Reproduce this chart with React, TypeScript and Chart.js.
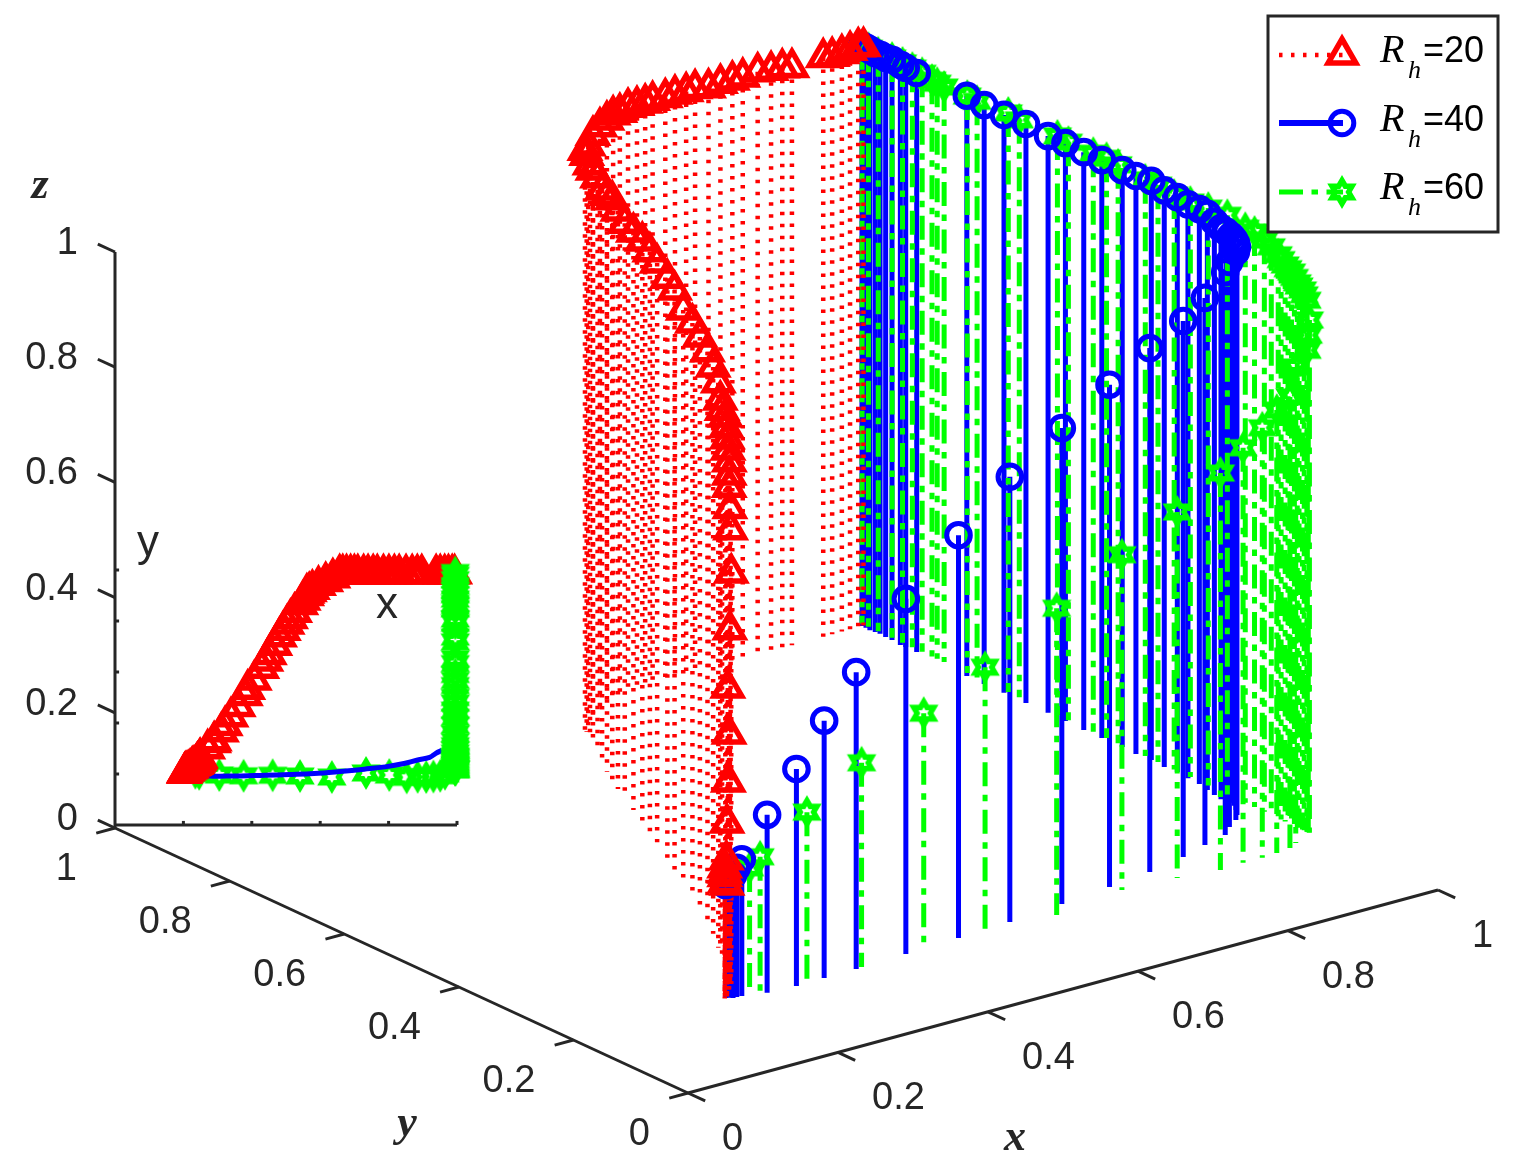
import { useEffect, useRef } from "react";
import { Chart, registerables } from "chart.js";

Chart.register(...registerables);

const RED = "#ff0000";
const BLUE = "#0000ff";
const GREEN = "#00ff00";
const INK = "#262626";

// Rh = 20
const redX = [.203,.203,.204,.205,.207,.210,.214,.219,.223,.226,.231,.236,.239,.238,.241,.241,.245,.244,.247,.248,.249,.271,.288,.290,.311,.322,.339,.360,.381,.388,.407,.429,.441,.451,.467,.481,.492,.503,.513,.525,.543,.550,.560,.568,.561,.577,.595,.616,.637,.657,.666,.677,.689,.700,.710,.727,.740,.755,.767,.785,.801,.817,.831,.851,.869,.884,.897,.939,.951,.964,.975,.986,.993];
const redY = [.203,.206,.208,.209,.212,.213,.217,.221,.225,.231,.234,.238,.243,.243,.248,.248,.253,.254,.259,.262,.265,.299,.324,.330,.366,.390,.425,.465,.508,.532,.569,.615,.643,.669,.705,.738,.764,.788,.810,.834,.865,.882,.900,.916,.910,.925,.940,.955,.970,.985,.985,.985,.985,.985,.985,.985,.985,.985,.985,.985,.985,.985,.985,.985,.985,.985,.985,.985,.985,.985,.985,.985,.985];
const redZ = [.198,.201,.210,.215,.222,.234,.294,.361,.440,.515,.612,.706,.777,.814,.847,.868,.887,.907,.923,.940,.957,.945,.945,.971,.974,.985,.988,.986,.981,1.002,.998,.995,.997,1.0,.993,.988,.993,.997,.991,.985,.985,.988,.985,.991,1.005,1.0,1.005,1.005,1.002,.997,.998,1.003,1.002,1.002,1.003,1.002,1.003,1.002,1.003,.998,1.0,1.0,1.0,1.002,.998,.997,.993,.995,.993,.993,.995,.997,.995];

// Rh = 40
const blueX = [.206,.209,.212,.217,.223,.250,.287,.325,.368,.437,.510,.582,.658,.729,.790,.845,.885,.920,.938,.956,.966,.974,.980,.983,.982,.981,.983,.986,.990,.991,.993,.991,.993,.991,.992,.991,.990,.991,.991,.990,.990,.989,.989,.990,.990,.989,.991,.991,.992,.991,.990,.991,.991];
const blueY = [.209,.207,.204,.204,.203,.194,.191,.192,.192,.195,.198,.202,.210,.219,.228,.241,.255,.265,.281,.293,.304,.316,.327,.336,.343,.351,.365,.381,.400,.421,.442,.462,.487,.511,.536,.570,.600,.633,.663,.700,.738,.771,.801,.889,.908,.916,.933,.944,.955,.962,.970,.978,.985];
const blueZ = [.194,.204,.211,.222,.235,.306,.373,.442,.510,.610,.692,.765,.818,.863,.900,.921,.940,.967,.971,.976,.976,.974,.973,.974,.978,.981,.985,.990,.988,.986,.988,.991,.995,.993,.991,.993,.993,.993,.991,.995,.993,.995,.997,.995,.995,.997,.997,.995,.995,.995,.997,.997,.997];

// Rh = 60
const greenX = [.235,.246,.305,.376,.461,.541,.634,.734,.802,.853,.885,.910,.931,.951,.965,.995,.995,.995,.995,.995,.995,.995,.995,.995,.995,.995,.995,.995,.995,.995,.995,.995,.995,.995,.995,.995,.995,.995,.995,.995,.995,.995,.995,.995,.995,.995,.995,.995,.995,.995,.995,.995,.995,.995,.995,.995,.995,.995];
const greenY = [.205,.201,.196,.193,.195,.192,.188,.204,.196,.187,.189,.188,.190,.193,.201,.220,.218,.216,.220,.228,.237,.247,.258,.270,.282,.294,.311,.327,.358,.391,.422,.450,.478,.500,.547,.567,.590,.633,.652,.718,.737,.791,.808,.848,.860,.869,.886,.903,.920,.938,.962,.979,.990,.265,.253,.242,.234,.225];
const greenZ = [.215,.232,.290,.351,.405,.457,.527,.576,.629,.682,.713,.739,.761,.775,.818,.827,.854,.881,.913,.927,.935,.949,.956,.968,.976,.982,.988,.987,.995,.992,.988,.987,.991,.990,.994,.996,.994,.993,.995,.992,.995,.990,.991,.988,.989,.990,.994,.995,.996,.996,.994,.994,.993,.962,.952,.942,.931,.920];
const greenBend = 15;

const tickValues = [0, 0.2, 0.4, 0.6, 0.8, 1];
const tickLabels = ["0", "0.2", "0.4", "0.6", "0.8", "1"];
const insetXTicks = [0.2, 0.4, 0.6, 0.8, 1];
const insetYTicks = [0.2, 0.4, 0.6, 0.8, 1];
const legendNames = ["=20", "=40", "=60"];

type P = { x: number; y: number };
// oblique view used for the stems
const view = (x: number, y: number, z: number): P => ({
  x: 693 + 745 * x - 578 * y,
  y: 1097 - 207 * x - 270 * y - 582 * z,
});
// the box of the axes
const box = (x: number, y: number, z: number): P => ({
  x: 688 + 750 * x - 573 * y,
  y: 1093 - 203 * x - 265 * y - 576 * z,
});
// the small flat x-y view
const flat = (x: number, y: number): P => ({ x: 115 + 342 * x, y: 825 - 255 * y });

function hexagram(): HTMLCanvasElement {
  const c = document.createElement("canvas");
  c.width = 48;
  c.height = 48;
  const g = c.getContext("2d")!;
  g.strokeStyle = GREEN;
  g.lineWidth = 5.5;
  g.lineJoin = "miter";
  g.miterLimit = 6;
  g.beginPath();
  for (let i = 0; i < 12; i++) {
    const r = i % 2 === 0 ? 11.5 : 6.64;
    const a = (i * Math.PI) / 6 - Math.PI / 2;
    const px = 24 + r * Math.cos(a);
    const py = 24 + r * Math.sin(a);
    if (i === 0) g.moveTo(px, py);
    else g.lineTo(px, py);
  }
  g.closePath();
  g.stroke();
  return c;
}

const redDash = [3.5, 8.5];
const greenDash = [24, 8.5, 6.5, 8.5];

function stems(xs: number[], ys: number[], zs: number[], color: string, width: number, dash: number[], order: number) {
  return xs.map((x, i) => ({
    data: [view(x, ys[i], zs[i]), view(x, ys[i], 0)],
    showLine: true,
    borderColor: color,
    borderWidth: width,
    borderDash: dash,
    borderCapStyle: "butt" as const,
    pointRadius: 0,
    order,
    clip: false,
  }));
}

function marks(data: P[], color: string, pointStyle: any, radius: number, width: number, order: number) {
  return {
    data,
    showLine: false,
    pointStyle,
    pointRadius: radius,
    pointBorderColor: color,
    pointBackgroundColor: "rgba(0,0,0,0)",
    pointBorderWidth: width,
    order,
    clip: false,
  };
}

function frameLine(a: P, b: P, width = 3) {
  return {
    data: [a, b],
    showLine: true,
    borderColor: INK,
    borderWidth: width,
    pointRadius: 0,
    order: 20,
    clip: false,
  };
}

export default function App() {
  const ref = useRef<HTMLCanvasElement | null>(null);
  useEffect(() => {
    const star = hexagram();
    const frame: any[] = [
      frameLine(box(0, 0, 0), box(1, 0, 0)),
      frameLine(box(0, 0, 0), box(0, 1, 0)),
      frameLine(box(0, 1, 0), box(0, 1, 1)),
      frameLine(flat(0, 0), flat(1, 0)),
    ];
    tickValues.forEach((t) => {
      frame.push(frameLine(box(t, 0, 0), box(t, -0.03, 0), 3));
      frame.push(frameLine(box(0, t, 0), box(-0.025, t, 0), 3));
      frame.push(frameLine(box(0, 1, t), box(0, 1.03, t), 3));
    });
    insetXTicks.forEach((t) => frame.push(frameLine(flat(t, 0), flat(t, 0.016), 3)));
    insetYTicks.forEach((t) => frame.push(frameLine(flat(0, t), flat(0.012, t), 3)));

    const redFlat = redX.map((x, i) => flat(x, redY[i]));
    const greenFlat = greenX.map((x, i) => flat(x, greenY[i]));
    const blueFlat = blueX.slice(5, 20).map((x, i) => flat(x, blueY[i + 5]));

    const datasets: any[] = [
      ...frame,
      ...stems(blueX, blueY, blueZ, BLUE, 5, [], 12),
      ...stems(greenX, greenY, greenZ, GREEN, 5, greenDash, 11),
      ...stems(redX, redY, redZ, RED, 4.5, redDash, 10),
      marks(greenX.map((x, i) => view(x, greenY[i], greenZ[i])), GREEN, star, 15, 0, 9),
      marks(blueX.map((x, i) => view(x, blueY[i], blueZ[i])), BLUE, "circle", 11.8, 5, 8),
      marks(redX.map((x, i) => view(x, redY[i], redZ[i])), RED, "triangle", 16, 5.5, 7),
      marks(greenFlat.slice(0, greenBend), GREEN, star, 15, 0, 6),
      { data: blueFlat, showLine: true, tension: 0.4, borderColor: BLUE, borderWidth: 5, pointRadius: 0, order: 5, clip: false },
      marks(redFlat, RED, "triangle", 16, 5.5, 4),
      marks(greenFlat.slice(greenBend), GREEN, star, 15, 0, 3),
    ];

    const textPlugin = {
      id: "chartText",
      afterDraw(chart: any) {
        const g: CanvasRenderingContext2D = chart.ctx;
        const sx = chart.scales.x;
        const sy = chart.scales.y;
        const px = (p: P): P => ({ x: sx.getPixelForValue(p.x), y: sy.getPixelForValue(p.y) });
        g.save();
        g.fillStyle = INK;
        g.textBaseline = "alphabetic";
        g.font = '38px "Liberation Sans", Arial, sans-serif';
        tickValues.forEach((t, i) => {
          const a = px(box(t, 0, 0));
          g.textAlign = "left";
          g.fillText(tickLabels[i], a.x + 34, a.y + 57);
          const b = px(box(0, t, 0));
          g.textAlign = "right";
          g.fillText(tickLabels[i], b.x - 38, b.y + 52);
          const c = px(box(0, 1, t));
          g.fillText(tickLabels[i], 78, c.y + 2);
        });
        g.textAlign = "center";
        g.font = 'italic bold 44px "Liberation Serif", "Times New Roman", serif';
        g.fillText("x", 1015, 1150);
        g.fillText("y", 407, 1136);
        g.fillText("z", 40, 198);
        g.font = '44px "Liberation Sans", Arial, sans-serif';
        g.fillText("y", 148, 556);
        g.fillText("x", 387, 618);

        // legend
        g.strokeStyle = INK;
        g.lineWidth = 3;
        g.fillStyle = "#ffffff";
        g.fillRect(1268, 16, 230, 216);
        g.strokeRect(1268, 16, 230, 216);
        const rows = [55, 123, 192];
        const bases = [62, 131, 199];
        rows.forEach((yy, i) => {
          g.save();
          g.lineCap = "butt";
          if (i === 0) {
            g.strokeStyle = RED;
            g.lineWidth = 4.5;
            g.setLineDash(redDash);
          } else if (i === 1) {
            g.strokeStyle = BLUE;
            g.lineWidth = 6;
          } else {
            g.strokeStyle = GREEN;
            g.lineWidth = 5;
            g.setLineDash(greenDash);
          }
          g.beginPath();
          g.moveTo(1279, yy);
          g.lineTo(1343, yy);
          g.stroke();
          g.setLineDash([]);
          g.lineWidth = i === 0 ? 5.5 : 5;
          if (i === 0) {
            g.beginPath();
            g.moveTo(1342, yy - 16);
            g.lineTo(1342 + 13.86, yy + 8);
            g.lineTo(1342 - 13.86, yy + 8);
            g.closePath();
            g.stroke();
          } else if (i === 1) {
            g.beginPath();
            g.arc(1342, yy, 11.8, 0, Math.PI * 2);
            g.stroke();
          } else {
            g.drawImage(star, 1342 - 24, yy - 24);
          }
          g.restore();
          g.fillStyle = "#000000";
          g.textAlign = "left";
          g.font = 'italic 40px "Liberation Serif", "Times New Roman", serif';
          g.fillText("R", 1380, bases[i]);
          g.font = 'italic 26px "Liberation Serif", "Times New Roman", serif';
          g.fillText("h", 1408, bases[i] + 16);
          g.font = '36px "Liberation Sans", Arial, sans-serif';
          g.fillText(legendNames[i], 1423, bases[i]);
        });
        g.restore();
      },
    };

    const chart = new Chart(ref.current!, {
      type: "scatter",
      data: { datasets },
      options: {
        animation: false,
        responsive: false,
        events: [],
        layout: { padding: 0, autoPadding: false },
        plugins: { legend: { display: false }, tooltip: { enabled: false } },
        scales: {
          x: { type: "linear", min: 0, max: 1519, display: false },
          y: { type: "linear", min: 0, max: 1166, reverse: true, display: false },
        },
      },
      plugins: [textPlugin],
    } as any);
    return () => chart.destroy();
  }, []);

  return (
    <div style={{ position: "absolute", left: 0, top: 0, width: 1519, height: 1166, background: "#fff", overflow: "hidden" }}>
      <canvas ref={ref} width={1519} height={1166} style={{ display: "block" }} />
    </div>
  );
}
